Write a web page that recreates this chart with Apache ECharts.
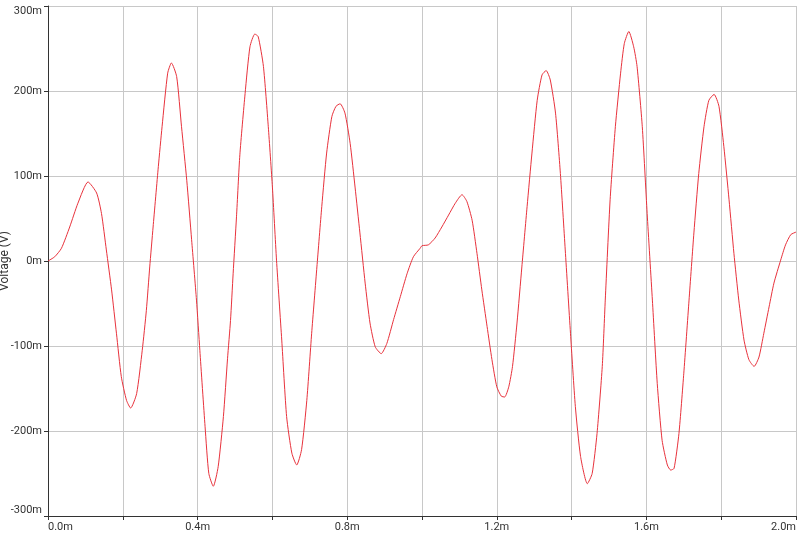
<!DOCTYPE html>
<html>
<head>
<meta charset="utf-8">
<script src="https://cdn.jsdelivr.net/npm/echarts@6/dist/echarts.min.js"></script>
<style>html,body{margin:0;padding:0;background:#fff}#c{width:800px;height:543px}</style>
</head>
<body>
<div id="c"></div>
<script>
// time in ms
const timeMs = [0,0.018,0.036,0.058,0.080,0.107,0.130,0.143,0.156,0.170,0.183,0.196,0.210,0.221,0.237,0.252,0.263,0.272,0.281,0.295,0.305,0.320,0.330,0.344,0.357,0.371,0.384,0.397,0.406,0.420,0.430,0.442,0.455,0.469,0.480,0.488,0.495,
0.504,0.513,0.527,0.540,0.553,0.562,0.576,0.589,0.600,0.611,0.625,0.638,0.652,0.665,0.678,0.692,0.705,0.719,0.732,0.745,0.759,0.770,0.781,0.794,0.808,0.821,0.834,0.848,0.861,0.875,0.891,0.906,0.924,0.942,0.960,0.977,0.995,
1.000,1.017,1.035,1.053,1.071,1.089,1.107,1.120,1.134,1.147,1.160,1.174,1.187,1.200,1.212,1.221,1.232,1.242,1.254,1.267,1.281,1.294,1.308,1.321,1.332,1.343,1.357,1.370,1.383,1.397,1.410,1.424,1.442,1.455,1.468,1.482,
1.490,1.503,1.517,1.531,1.541,1.553,1.566,1.575,1.589,1.602,1.616,1.629,1.642,1.656,1.665,1.674,1.687,1.700,1.714,1.727,1.740,1.754,1.767,1.781,1.794,1.807,1.821,1.834,1.847,1.861,1.874,1.888,1.901,1.914,1.928,1.941,1.959,1.972,1.986,2.000];
// voltage in mV
const voltageMv = [0,5,15,40,68,93,80,56,13,-34,-85,-136,-164,-173,-156,-105,-58,-7,40,111,158,221,233,217,158,95,25,-46,-105,-195,-250,-265,-242,-183,-115,-70,-15,
52,125,197,252,267,264,229,158,87,1,-93,-183,-226,-240,-222,-164,-85,-7,64,127,170,182,185,174,138,87,33,-26,-73,-101,-109,-97,-69,-42,-15,5,15,
18,19,27,40,54,68,78,70,48,9,-34,-77,-116,-148,-159,-160,-148,-124,-73,-7,64,127,189,219,224,213,174,103,13,-85,-171,-230,-262,-250,-203,-124,
-46,72,158,221,256,270,252,229,158,56,-46,-144,-211,-240,-246,-244,-203,-132,-46,33,103,158,189,196,182,135,72,9,-46,-93,-116,-124,-113,-85,-54,-26,1,19,31,34];
const xLabelStep = 0.4;

const data = timeMs.map((t, i) => [t, voltageMv[i]]);
const chart = echarts.init(document.getElementById('c'), null, {renderer: 'canvas'});
const labelFont = {fontFamily: 'Roboto, Arial, sans-serif', fontSize: 11, color: '#333'};
chart.setOption({
  animation: false,
  backgroundColor: '#fff',
  grid: {left: 48, right: 4, top: 6, bottom: 27, containLabel: false, outerBoundsMode: 'none'},
  xAxis: {
    type: 'value', min: 0, max: 2, interval: 0.2,
    axisLine: {show: true, onZero: false, lineStyle: {color: '#333', width: 1}},
    axisTick: {show: true, length: 4, lineStyle: {color: '#333'}},
    splitLine: {show: true, lineStyle: {color: '#c8c8c8', width: 1}},
    axisLabel: Object.assign({
      margin: 6,
      alignMinLabel: 'left', alignMaxLabel: 'right',
      formatter: v => {
        const k = Math.round(v / xLabelStep * 1000) / 1000;
        return Math.abs(k - Math.round(k)) < 1e-6 ? v.toFixed(1) + 'm' : '';
      }
    }, labelFont)
  },
  yAxis: {
    type: 'value', min: -300, max: 300, interval: 100,
    name: 'Voltage (V)', nameLocation: 'middle', nameGap: 37, nameRotate: 90, nameMoveOverlap: false,
    nameTextStyle: {fontFamily: 'Roboto, Arial, sans-serif', fontSize: 12, color: '#333'},
    axisLine: {show: true, onZero: false, lineStyle: {color: '#333', width: 1}},
    axisTick: {show: true, length: 4, lineStyle: {color: '#333'}},
    splitLine: {show: true, lineStyle: {color: '#c8c8c8', width: 1}},
    axisLabel: Object.assign({
      margin: 6,
      verticalAlignMinLabel: 'bottom', verticalAlignMaxLabel: 'top',
      formatter: v => v + 'm'
    }, labelFont)
  },
  series: [{
    type: 'line', data: data, showSymbol: false, smooth: 0.2,
    lineStyle: {color: '#e8323c', width: 1},
    clip: true
  }]
});
</script>
</body>
</html>
